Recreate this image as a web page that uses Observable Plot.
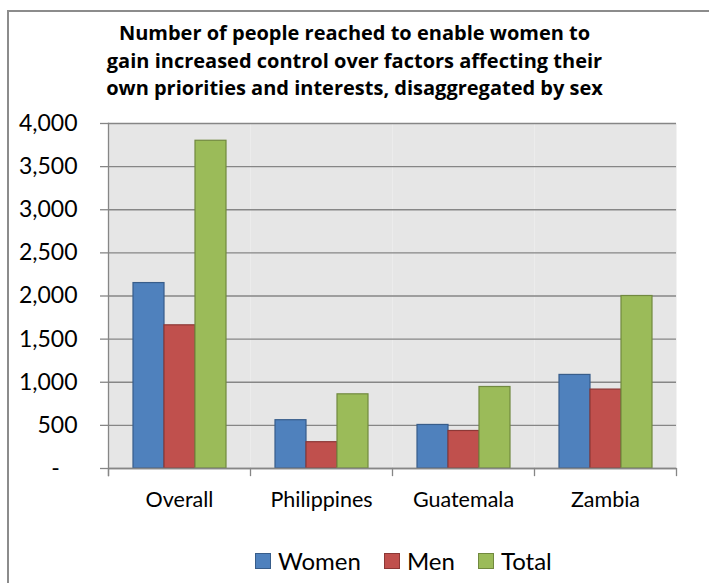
<!DOCTYPE html>
<html>
<head>
<meta charset="utf-8">
<script src="https://cdn.jsdelivr.net/npm/d3@7"></script>
<script src="https://cdn.jsdelivr.net/npm/@observablehq/plot@0.6"></script>
<style>
  html, body { margin: 0; padding: 0; background: #fff; }
  body { width: 709px; height: 583px; overflow: hidden; position: relative; font-family: "Lato", "Open Sans", sans-serif; }
  #border { position: absolute; left: 7px; top: 10px; width: 800px; height: 700px; border-left: 2px solid #8c8c8c; border-top: 2px solid #8c8c8c; box-sizing: border-box; }
  #title { position: absolute; left: 0; top: 19px; width: 709px; text-align: center; font-family: "Open Sans", sans-serif; font-weight: bold; font-size: 20px; line-height: 27.5px; color: #000; }
  #chart { position: absolute; left: 0; top: 0; }
  #legend { position: absolute; left: 255px; top: 546px; display: flex; align-items: center; font-size: 24px; color: #000; }
  .item { display: flex; align-items: center; margin-right: 23px; }
  .sw { width: 14px; height: 14px; border: 1px solid; margin-right: 7px; }
</style>
</head>
<body>
<div id="border"></div>
<div id="chart"></div>
<div id="title">Number of people reached to enable women to<br>gain increased control over factors affecting their<br>own priorities and interests, disaggregated by sex</div>
<div id="legend"></div>
<script>
const categories = ["Overall", "Philippines", "Guatemala", "Zambia"];
const series = ["Women", "Men", "Total"];
const women = [2150, 560, 505, 1085];
const men = [1660, 305, 435, 915];
const total = [3800, 860, 945, 2000];
const yTicks = [0, 500, 1000, 1500, 2000, 2500, 3000, 3500, 4000];
const fills = ["#4F81BD", "#C0504D", "#9BBB59"];
const strokes = ["#385D8A", "#8C3836", "#71893F"];

const valuesBySeries = [women, men, total];
const rows = [];
series.forEach((s, si) => {
  categories.forEach((c, ci) => rows.push({category: c, series: s, value: valuesBySeries[si][ci]}));
});

const gray = "#868686";
const fmt = d => d === 0 ? "-\u00a0\u00a0\u00a0" : d3.format(",")(d);

const chart = Plot.plot({
  width: 709,
  height: 520,
  marginLeft: 108,
  marginRight: 33,
  marginTop: 123,
  marginBottom: 52,
  style: {fontFamily: "Lato, 'Open Sans', sans-serif", color: "#000", background: "transparent"},
  fx: {domain: categories, padding: 0, label: null},
  x: {domain: series, paddingInner: 0, paddingOuter: 0.74, axis: null},
  y: {domain: [0, 4000], label: null},
  marks: [
    Plot.frame({fill: "#e6e6e6", stroke: null}),
    Plot.gridY(yTicks, {stroke: gray, strokeOpacity: 1, strokeWidth: 1.3}),
    ...series.map((s, i) => Plot.barY(rows.filter(r => r.series === s), {
      fx: "category", x: "series", y: "value",
      fill: fills[i], stroke: strokes[i], strokeWidth: 1.2
    })),
    Plot.ruleY([0], {stroke: gray, strokeWidth: 1.3}),
    Plot.frame({anchor: "left", insetTop: 345, insetBottom: -7, stroke: gray, strokeWidth: 1.3}),
    Plot.frame({anchor: "right", insetTop: 345, insetBottom: -7, stroke: gray, strokeWidth: 1.3, facetAnchor: "right"}),
    Plot.frame({anchor: "left", insetBottom: -7, stroke: gray, strokeWidth: 1.3, facetAnchor: "left"}),
    Plot.axisY(yTicks, {tickSize: 8, tickPadding: 23, tickFormat: fmt, fontSize: 23, stroke: gray, strokeWidth: 1.3, fill: "#000", label: null}),
    Plot.axisFx({anchor: "bottom", tickSize: 0, tickPadding: 23, fontSize: 21.5, fill: "#000", label: null})
  ]
});
document.getElementById("chart").appendChild(chart);

const legend = document.getElementById("legend");
series.forEach((s, i) => {
  const item = document.createElement("div");
  item.className = "item";
  const sw = document.createElement("div");
  sw.className = "sw";
  sw.style.background = fills[i];
  sw.style.borderColor = strokes[i];
  const t = document.createElement("span");
  t.textContent = s;
  item.appendChild(sw);
  item.appendChild(t);
  legend.appendChild(item);
});
</script>
</body>
</html>
